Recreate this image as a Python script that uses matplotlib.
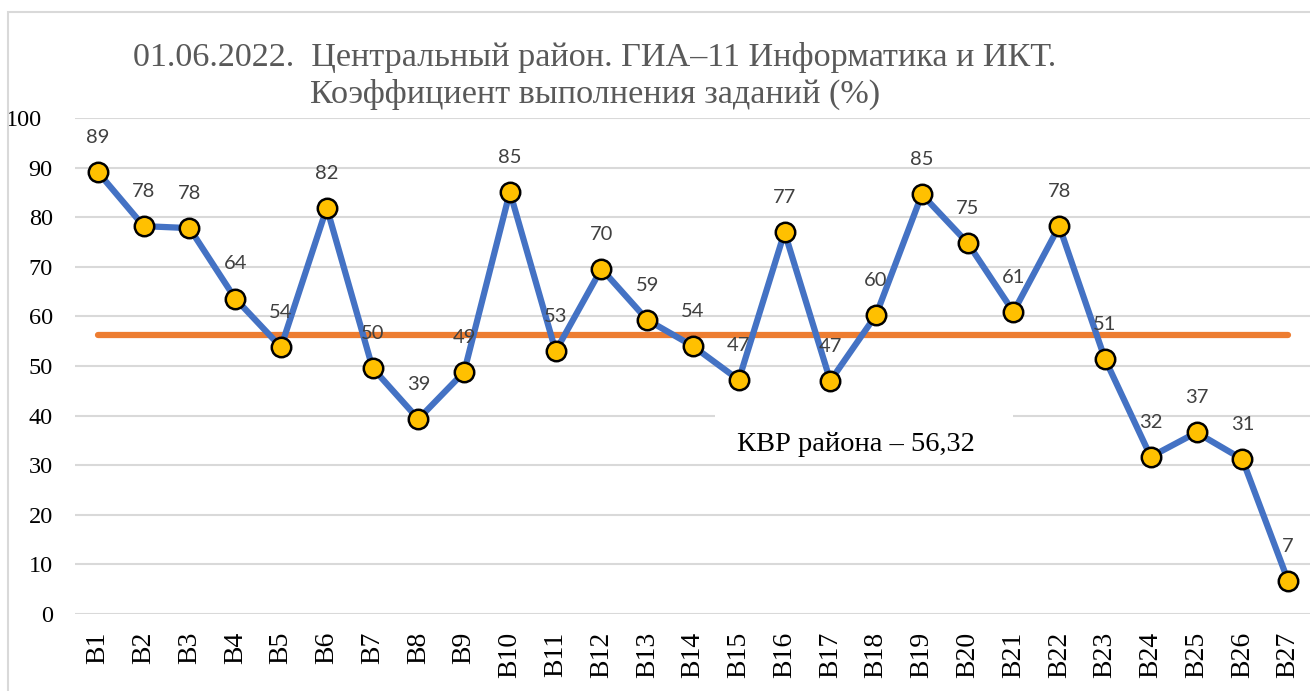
import matplotlib
matplotlib.use("Agg")
import matplotlib.pyplot as plt
from matplotlib.patches import Rectangle
from matplotlib.transforms import ScaledTranslation

categories = ["В%d" % i for i in range(1, 28)]
values = [89.1, 78.2, 77.8, 63.6, 53.8, 81.9, 49.6, 39.3, 48.8, 85.1,
          53.0, 69.6, 59.3, 54.0, 47.2, 77.0, 47.0, 60.3, 84.6, 74.8,
          60.9, 78.2, 51.4, 31.7, 36.6, 31.2, 6.7]
average = 56.32
y_ticks = list(range(0, 101, 10))
title_text = "01.06.2022.  Центральный район. ГИА–11 Информатика и ИКТ.\nКоэффициент выполнения заданий (%)"
note_text = "КВР района – 56,32"

W, H = 1310, 691
fig = plt.figure(figsize=(W / 100, H / 100), dpi=100)
fig.patch.set_facecolor("white")

# chart border (cropped at right and bottom)
fig.patches.append(Rectangle((8 / W, -0.05), 1.1, 1.05 - 12 / H, transform=fig.transFigure,
                             fill=False, edgecolor="#D9D9D9", linewidth=1.5))

ax = fig.add_axes([75 / W, 1 - 614 / H, 1236 / W, (614 - 118) / H])
x = list(range(len(categories)))
ax.set_xlim(-0.5, len(categories) - 0.5)
ax.set_ylim(0, 100)
for s in ax.spines.values():
    s.set_visible(False)
ax.set_yticks(y_ticks)
ax.grid(axis="y", color="#D9D9D9", linewidth=1.5)
ax.set_axisbelow(True)
ax.tick_params(axis="both", length=0)
ax.tick_params(axis="y", pad=16)
ax.tick_params(axis="x", pad=13)
ax.set_xticks(x)
ax.set_xticklabels(categories, rotation=90, fontfamily="Liberation Serif", fontsize=20, color="#000000")
ylabs = ax.get_yticklabels()
for lab in ylabs:
    lab.set_fontfamily("Liberation Serif")
    lab.set_fontsize(17.5)
    lab.set_color("#000000")
ylabs[-1].set_transform(ylabs[-1].get_transform() + ScaledTranslation(-0.11, 0, fig.dpi_scale_trans))

ax.plot(x, [average] * len(x), color="#ED7D31", linewidth=4.5, solid_capstyle="round", zorder=2)
ax.plot(x, values, color="#4472C4", linewidth=4.5, marker="o", markersize=14,
        markerfacecolor="#FFC000", markeredgecolor="#000000", markeredgewidth=1.8, zorder=3)

for xi, v in zip(x, values):
    ax.annotate("%.0f" % v, (xi, v), xytext=(0, 25), textcoords="offset points",
                ha="center", va="center", fontsize=14.5, fontfamily="Lato", color="#404040", zorder=4)

box = Rectangle((13.48, 32.5), 6.5, 8.6, facecolor="white", edgecolor="none", zorder=5)
ax.add_patch(box)
t = ax.text(16.56, 32.9, note_text, ha="center", va="baseline", fontfamily="Liberation Serif",
            fontsize=20.5, color="#000000", zorder=6)
t.set_clip_path(box)

fig.text(595 / W, 1 - 76 / H, title_text, ha="center", va="center", multialignment="center",
         fontfamily="Liberation Serif", fontsize=24.6, color="#595959", linespacing=1.25)

fig.savefig("out.png", dpi=100)
